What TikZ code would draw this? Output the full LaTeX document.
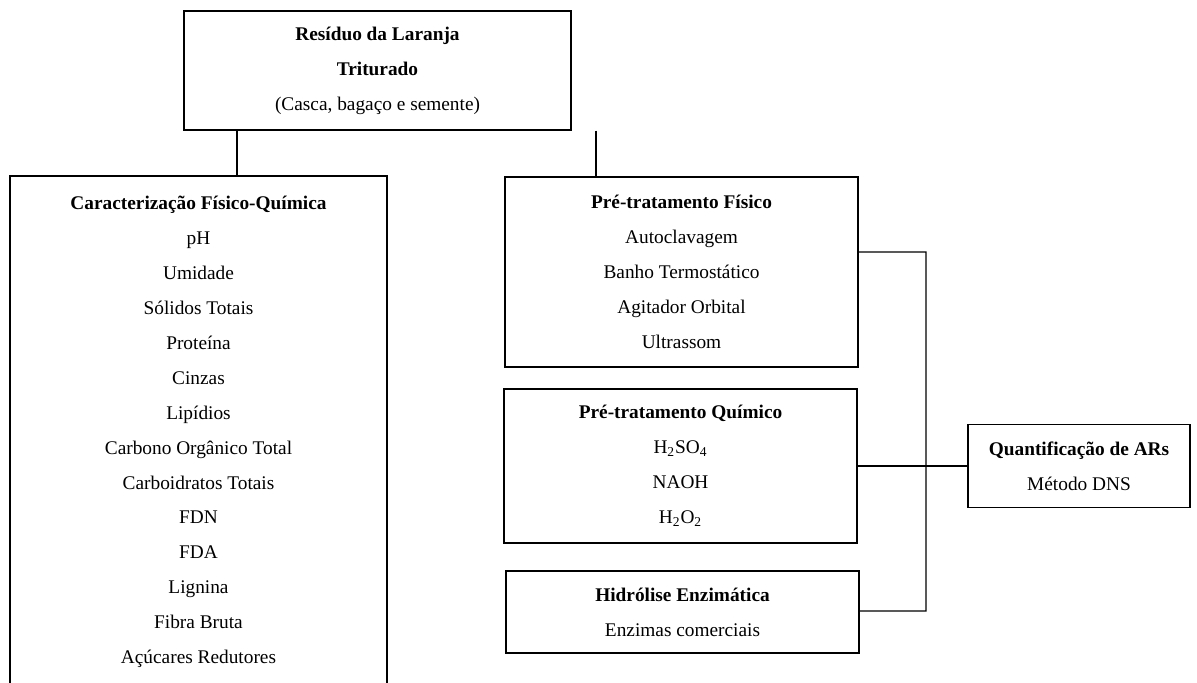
\documentclass[tikz,border=0pt]{standalone}
\usepackage{fontspec}
\setmainfont{Liberation Serif}
\usetikzlibrary{positioning,calc}
\tikzset{
  caixa/.style={rectangle,draw=black,line width=0.6pt,align=center,
                inner sep=0pt,font=\fontsize{11}{19.85}\selectfont},
  liga/.style={line width=0.6pt,color=black},
}

\begin{document}
\begin{tikzpicture}

  \useasboundingbox (0,0) rectangle (23.94,-13.66);

  \node[caixa,minimum width=7.74cm,minimum height=2.38cm]
    (topo) at (7.55,-1.41)
    {\textbf{Resíduo da Laranja}\\ \textbf{Triturado}\\ (Casca, bagaço e semente)};

  \node[caixa,minimum width=7.54cm,minimum height=10.24cm]
    (carac) at (3.97,-8.64)
    {\textbf{Caracterização Físico-Química}\\ pH\\ Umidade\\ Sólidos Totais\\
     Proteína\\ Cinzas\\ Lipídios\\ Carbono Orgânico Total\\ Carboidratos Totais\\
     FDN\\ FDA\\ Lignina\\ Fibra Bruta\\ Açúcares Redutores};

  \node[caixa,minimum width=7.06cm,minimum height=3.80cm]
    (fisico) at (13.63,-5.44)
    {\textbf{Pré-tratamento Físico}\\ Autoclavagem\\ Banho Termostático\\
     Agitador Orbital\\ Ultrassom};

  \node[caixa,minimum width=7.06cm,minimum height=3.08cm]
    (quimico) at (13.61,-9.32)
    {\textbf{Pré-tratamento Químico}\\ H\textsubscript{2}SO\textsubscript{4}\\ NAOH\\
     H\textsubscript{2}O\textsubscript{2}};

  \node[caixa,minimum width=7.06cm,minimum height=1.64cm]
    (hidro) at (13.65,-12.24)
    {\textbf{Hidrólise Enzimática}\\ Enzimas comerciais};

  \node[caixa,minimum width=4.44cm,minimum height=1.66cm]
    (quant) at (21.58,-9.32)
    {\textbf{Quantificação de ARs}\\ Método DNS};

  % ramos do residuo
  \coordinate (ramoA) at (4.74,0);
  \coordinate (ramoB) at (11.92,0);
  \draw[liga] (topo.south -| ramoA) -- (carac.north -| ramoA);
  \draw[liga] (topo.south -| ramoB) -- (fisico.north -| ramoB);

  % barra vertical
  \coordinate (topoBarra) at (18.52,-5.04);
  \coordinate (baseBarra) at (18.52,-12.22);
  \draw[liga] ([yshift=4mm]fisico.east) -- (topoBarra) -- (baseBarra)
              -- (hidro.east |- baseBarra);
  \draw[liga] (quimico.east) -- (quant.west);

\end{tikzpicture}
\end{document}
